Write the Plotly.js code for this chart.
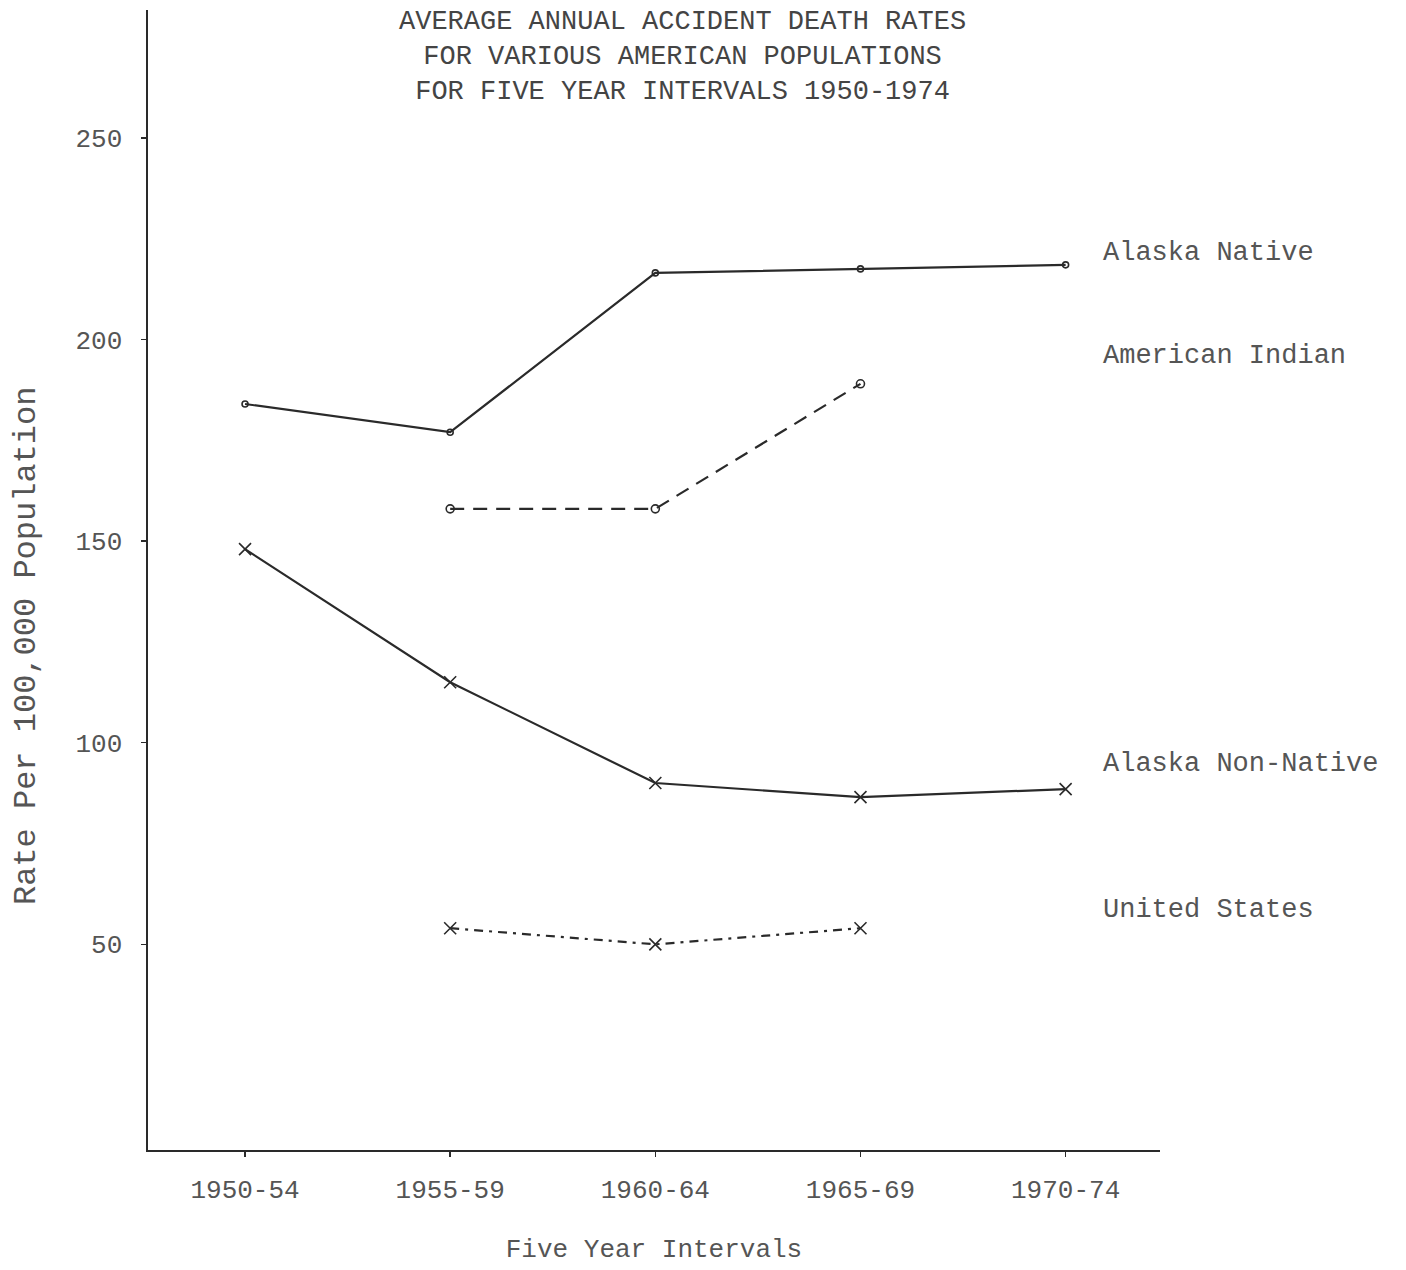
<!DOCTYPE html>
<html>
<head>
<meta charset="utf-8">
<script src="https://cdn.plot.ly/plotly-3.0.1.min.js"></script>
<style>html,body{margin:0;padding:0;background:#fff;}#chart{width:1406px;height:1270px;}</style>
</head>
<body>
<div id="chart"></div>
<script>
const intervals = ["1950-54", "1955-59", "1960-64", "1965-69", "1970-74"];
const alaskaNative = [184, 177, 216.5, 217.5, 218.5];
const americanIndian = [null, 158, 158, 189, null];
const alaskaNonNative = [148, 115, 90, 86.5, 88.5];
const unitedStates = [null, 54, 50, 54, null];
const seriesNames = ["Alaska Native", "American Indian", "Alaska Non-Native", "United States"];
const yTicks = [50, 100, 150, 200, 250];
const titleLines = ["AVERAGE ANNUAL ACCIDENT DEATH RATES", "FOR VARIOUS AMERICAN POPULATIONS", "FOR FIVE YEAR INTERVALS 1950-1974"];

const FONT = "Liberation Mono, Courier New, DejaVu Sans Mono, monospace";
const INK = "#2a2a2a";
const TXT = "#555555";

function trace(y, name, dash, symbol, size) {
  return {
    x: intervals, y: y, name: name, type: "scatter", mode: "lines+markers",
    connectgaps: false,
    line: {color: INK, width: 2.2, dash: dash},
    marker: {symbol: symbol, size: size, color: INK, line: {color: INK, width: 1.6}},
    showlegend: false, hoverinfo: "skip"
  };
}

const data = [
  trace(alaskaNative, seriesNames[0], "solid", "circle-open", 6),
  trace(americanIndian, seriesNames[1], "14px,9px", "circle-open", 8),
  trace(alaskaNonNative, seriesNames[2], "solid", "x-thin-open", 12),
  trace(unitedStates, seriesNames[3], "9px,6px,3px,6px", "x-thin-open", 12)
];

// label vertical positions (layout, in axis units)
const labelPos = [221.5, 196, 94.7, 58.5];

const annotations = seriesNames.map((n, i) => ({
  xref: "paper", yref: "y", x: 0.942, y: labelPos[i], xanchor: "left", yanchor: "middle",
  text: n, showarrow: false, font: {family: FONT, size: 27, color: TXT}
}));

annotations.push({
  xref: "paper", yref: "paper", x: 0.528, y: 1.004, xanchor: "center", yanchor: "top",
  text: titleLines.join("<br>"), showarrow: false, align: "center",
  font: {family: FONT, size: 27, color: "#444"}
});

annotations.push({
  xref: "paper", yref: "paper", x: -0.1206, y: 0.442, xanchor: "center", yanchor: "middle",
  text: "Rate Per 100,000 Population", textangle: -90, showarrow: false,
  font: {family: FONT, size: 32, color: TXT}
});

const layout = {
  width: 1406, height: 1270,
  margin: {l: 148, r: 246, t: 10, b: 120},
  paper_bgcolor: "#ffffff", plot_bgcolor: "#ffffff",
  font: {family: FONT, color: TXT},
  xaxis: {
    type: "category", range: [-0.473, 4.46],
    showgrid: false, zeroline: false,
    showline: true, linecolor: INK, linewidth: 2,
    ticks: "outside", ticklen: 5, tickcolor: INK, tickwidth: 1.5,
    tickfont: {family: FONT, size: 26, color: TXT},
    ticklabelstandoff: 10,
    title: {text: "Five Year Intervals", font: {family: FONT, size: 26, color: TXT}, standoff: 34}
  },
  yaxis: {
    range: [-1, 281.7],
    tickvals: yTicks, ticktext: yTicks.map(String),
    showgrid: false, zeroline: false,
    showline: true, linecolor: INK, linewidth: 2.5,
    ticks: "outside", ticklen: 5, tickcolor: INK, tickwidth: 1.5,
    tickfont: {family: FONT, size: 26, color: TXT},
    ticklabelstandoff: 13
  },
  annotations: annotations
};

Plotly.newPlot("chart", data, layout, {staticPlot: true, displayModeBar: false});
</script>
</body>
</html>
